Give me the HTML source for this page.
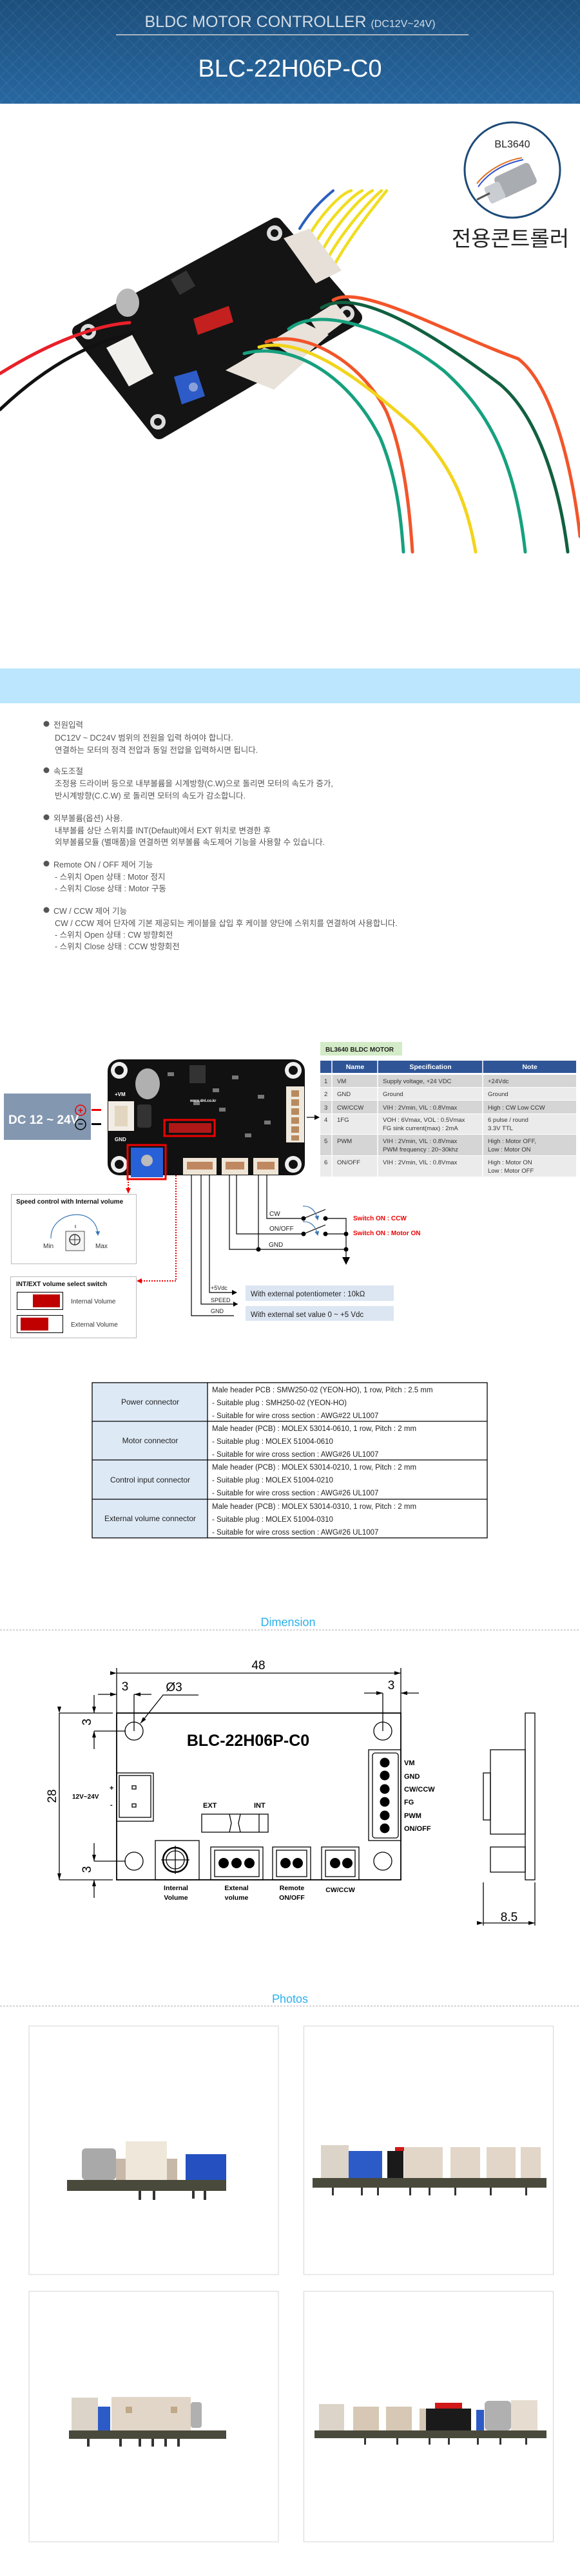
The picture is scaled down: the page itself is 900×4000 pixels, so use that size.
<!DOCTYPE html>
<html><head><meta charset="utf-8"><style>
html,body{margin:0;padding:0;background:#fff}
body{width:900px;height:4000px;position:relative;overflow:hidden;font-family:"Liberation Sans","Noto Sans CJK KR",sans-serif}
svg{position:absolute;left:0;top:0}
.k{font-family:"Liberation Sans","Noto Sans CJK KR",sans-serif}
</style></head><body>
<svg width="900" height="4000" viewBox="0 0 900 4000" xmlns="http://www.w3.org/2000/svg">
<defs>
<pattern id="dia" width="14" height="14" patternUnits="userSpaceOnUse" patternTransform="rotate(45)">
<rect width="14" height="14" fill="none"/>
<path d="M0 0H14M0 0V14" stroke="#ffffff" stroke-opacity="0.10" stroke-width="1.5"/>
</pattern>
<linearGradient id="hg" x1="0" y1="0" x2="0" y2="1"><stop offset="0" stop-color="#1d4f7c"/><stop offset="1" stop-color="#2767a0"/></linearGradient>
<marker id="ar" markerWidth="8" markerHeight="8" refX="7" refY="4" orient="auto" markerUnits="userSpaceOnUse"><path d="M0 0L8 4L0 8Z" fill="#000"/></marker>
<marker id="arr" markerWidth="8" markerHeight="8" refX="7" refY="4" orient="auto" markerUnits="userSpaceOnUse"><path d="M0 0L8 4L0 8Z" fill="#e00"/></marker>
<marker id="arb" markerWidth="7" markerHeight="7" refX="6" refY="3.5" orient="auto" markerUnits="userSpaceOnUse"><path d="M0 0L7 3.5L0 7Z" fill="#3a78b8"/></marker>
<marker id="dm" markerWidth="10" markerHeight="6" refX="10" refY="3" orient="auto" markerUnits="userSpaceOnUse"><path d="M0 0L10 3L0 6Z" fill="#000"/></marker>
</defs>

<!-- HEADER -->
<rect x="0" y="0" width="900" height="161" fill="url(#hg)"/>
<rect x="0" y="0" width="900" height="161" fill="url(#dia)"/>
<text x="450" y="42" text-anchor="middle" fill="#d4dce4" font-size="25" class="k">BLDC MOTOR CONTROLLER <tspan font-size="16">(DC12V~24V)</tspan></text>
<rect x="180" y="53" width="547" height="2" fill="#a9b4bf"/>
<text x="450" y="119" text-anchor="middle" fill="#fff" font-size="38" class="k">BLC-22H06P-C0</text>

<!-- PRODUCT PHOTO -->
<g fill="none" stroke-linecap="round">
<path d="M465 355 C480 330 500 310 517 296" stroke="#2a5fc0" stroke-width="4"/>
<path d="M478 368 C500 330 530 300 545 296" stroke="#f0dd20" stroke-width="4.5"/>
<path d="M488 380 C510 340 545 305 562 296" stroke="#f0dd20" stroke-width="4.5"/>
<path d="M498 393 C520 350 560 305 578 296" stroke="#f0dd20" stroke-width="4.5"/>
<path d="M506 406 C530 360 575 310 592 296" stroke="#f0dd20" stroke-width="4.5"/>
<path d="M514 420 C540 370 585 315 600 296" stroke="#f0dd20" stroke-width="4.5"/>
</g>
<polygon points="428,349 551,493 247,671 123,515" fill="#141414" stroke="#141414" stroke-width="22" stroke-linejoin="round"/>
<circle cx="426" cy="362" r="12" fill="#ddd"/><circle cx="426" cy="362" r="6" fill="#141414"/>
<circle cx="538" cy="487" r="12" fill="#ddd"/><circle cx="538" cy="487" r="6" fill="#141414"/>
<circle cx="245" cy="655" r="12" fill="#ddd"/><circle cx="245" cy="655" r="6" fill="#141414"/>
<circle cx="137" cy="515" r="12" fill="#ddd"/><circle cx="137" cy="515" r="6" fill="#141414"/>
<polygon points="440,370 480,355 530,420 490,440" fill="#e6e0d8"/>
<polygon points="165,540 205,520 238,580 200,600" fill="#f2f0ec"/>
<polygon points="350,575 410,540 475,560 425,605" fill="#e8e2da"/>
<polygon points="420,530 470,500 510,520 465,560" fill="#e8e2da"/>
<polygon points="480,495 520,470 540,495 500,525" fill="#e8e2da"/>
<polygon points="300,495 355,475 362,500 307,520" fill="#c42020"/>
<polygon points="270,585 305,575 318,615 282,628" fill="#2d5cc8"/>
<circle cx="300" cy="601" r="7" fill="#8aa0d8"/>
<ellipse cx="198" cy="470" rx="18" ry="22" fill="#b8b8b8"/>
<rect x="270" y="425" width="28" height="28" fill="#333" transform="rotate(-30 284 439)"/>
<g fill="none" stroke-linecap="round">
<path d="M0 580 C80 530 150 505 201 501" stroke="#e8202a" stroke-width="5"/>
<path d="M0 636 C80 560 150 530 207 517" stroke="#111" stroke-width="5"/>
<path d="M517 466 C560 440 700 520 804 557 C860 600 890 740 900 833" stroke="#f2552a" stroke-width="5"/>
<path d="M499 478 C560 440 700 540 775 596 C840 650 870 770 881 857" stroke="#116040" stroke-width="5"/>
<path d="M448 511 C500 470 620 520 689 576 C760 640 800 720 815 857" stroke="#16a07e" stroke-width="5"/>
<path d="M413 531 C470 510 560 560 600 640 C625 700 635 780 640 857" stroke="#f2552a" stroke-width="5"/>
<path d="M402 539 C470 520 560 590 640 660 C700 720 725 780 738 857" stroke="#f2d41c" stroke-width="5"/>
<path d="M379 549 C450 530 540 580 590 680 C615 740 622 800 626 857" stroke="#16a07e" stroke-width="5"/>
</g>
<circle cx="795" cy="264" r="74" fill="#fff" stroke="#1d4a78" stroke-width="3"/>
<text x="795" y="229" text-anchor="middle" font-size="16" fill="#222" class="k">BL3640</text>
<rect x="770" y="262" width="60" height="36" rx="6" fill="#a9acb0" transform="rotate(-25 800 280)"/>
<rect x="755" y="285" width="26" height="28" rx="4" fill="#c9ccd0" transform="rotate(-25 768 299)"/>
<line x1="740" y1="310" x2="760" y2="300" stroke="#555" stroke-width="3"/>
<path d="M740 285 C760 260 790 248 810 245" stroke="#e07020" stroke-width="2" fill="none"/>
<path d="M742 290 C762 262 792 252 812 248" stroke="#3050d0" stroke-width="2" fill="none"/>
<text x="792" y="382" text-anchor="middle" font-size="33" fill="#222" class="k">전용콘트롤러</text>

<!-- LIGHT BLUE BAND -->
<rect x="0" y="1038" width="900" height="54" fill="#bbe6fe"/>

<!-- TEXT SECTION -->
<g font-size="12.5" fill="#555" class="k">
<circle cx="72" cy="1124" r="4.5" fill="#555"/><text x="83" y="1130">전원입력</text>
<text x="85" y="1150">DC12V ~ DC24V 범위의 전원을 입력 하여야 합니다.</text>
<text x="85" y="1169">연결하는 모터의 정격 전압과 동일 전압을 입력하시면 됩니다.</text>
<circle cx="72" cy="1196" r="4.5" fill="#555"/><text x="83" y="1202">속도조절</text>
<text x="85" y="1221">조정용 드라이버 등으로 내부볼륨을 시계방향(C.W)으로 돌리면  모터의 속도가 증가,</text>
<text x="85" y="1240">반시계방향(C.C.W) 로 돌리면 모터의 속도가 감소합니다.</text>
<circle cx="72" cy="1269" r="4.5" fill="#555"/><text x="83" y="1275">외부볼륨(옵션) 사용.</text>
<text x="85" y="1294">내부볼륨 상단 스위치를 INT(Default)에서 EXT 위치로 변경한 후</text>
<text x="85" y="1312">외부볼륨모듈 (별매품)을 연결하면 외부볼륨 속도제어 기능을 사용할 수 있습니다.</text>
<circle cx="72" cy="1341" r="4.5" fill="#555"/><text x="83" y="1347">Remote ON / OFF 제어 기능</text>
<text x="85" y="1366">- 스위치 Open 상태 : Motor 정지</text>
<text x="85" y="1384">- 스위치 Close 상태 : Motor 구동</text>
<circle cx="72" cy="1413" r="4.5" fill="#555"/><text x="83" y="1419">CW / CCW 제어 기능</text>
<text x="85" y="1438">CW / CCW 제어 단자에 기본 제공되는 케이블을 삽입 후 케이블 양단에 스위치를 연결하여 사용합니다.</text>
<text x="85" y="1456">- 스위치 Open 상태 : CW 방향회전</text>
<text x="85" y="1474">- 스위치 Close 상태 : CCW 방향회전</text>
</g>

<!-- WIRING DIAGRAM -->
<rect x="497" y="1618" width="127" height="21" fill="#d3ebc6"/>
<text x="505" y="1633" font-size="10" font-weight="bold" fill="#222">BL3640 BLDC MOTOR</text>
<rect x="497" y="1647" width="397" height="19" fill="#2f5597"/>
<g fill="#fff" font-size="10.5" font-weight="bold" text-anchor="middle"><text x="551" y="1660">Name</text><text x="668" y="1660">Specification</text><text x="822" y="1660">Note</text></g>
<rect x="497" y="1669" width="397" height="19" fill="#d5d5d5"/>
<rect x="497" y="1689" width="397" height="19" fill="#ebebeb"/>
<rect x="497" y="1709" width="397" height="20" fill="#d5d5d5"/>
<rect x="497" y="1730" width="397" height="31" fill="#ebebeb"/>
<rect x="497" y="1762" width="397" height="32" fill="#d5d5d5"/>
<rect x="497" y="1795" width="397" height="32" fill="#ebebeb"/>
<g stroke="#fff" stroke-width="1.5"><line x1="515" y1="1647" x2="515" y2="1827"/><line x1="586" y1="1647" x2="586" y2="1827"/><line x1="749" y1="1647" x2="749" y2="1827"/></g>
<g font-size="9.5" fill="#333">
<text x="503" y="1682">1</text><text x="523" y="1682">VM</text><text x="594" y="1682">Supply voltage, +24 VDC</text><text x="757" y="1682">+24Vdc</text>
<text x="503" y="1702">2</text><text x="523" y="1702">GND</text><text x="594" y="1702">Ground</text><text x="757" y="1702">Ground</text>
<text x="503" y="1723">3</text><text x="523" y="1723">CW/CCW</text><text x="594" y="1723">VIH : 2Vmin, VIL : 0.8Vmax</text><text x="757" y="1723">High : CW  Low CCW</text>
<text x="503" y="1742">4</text><text x="523" y="1742">1FG</text><text x="594" y="1742">VOH : 6Vmax, VOL : 0.5Vmax</text><text x="594" y="1755">FG sink current(max) : 2mA</text><text x="757" y="1742">6 pulse / round</text><text x="757" y="1755">3.3V TTL</text>
<text x="503" y="1775">5</text><text x="523" y="1775">PWM</text><text x="594" y="1775">VIH : 2Vmin, VIL : 0.8Vmax</text><text x="594" y="1788">PWM frequency : 20~30khz</text><text x="757" y="1775">High : Motor OFF,</text><text x="757" y="1788">Low : Motor ON</text>
<text x="503" y="1808">6</text><text x="523" y="1808">ON/OFF</text><text x="594" y="1808">VIH : 2Vmin, VIL : 0.8Vmax</text><text x="757" y="1808">High : Motor ON</text><text x="757" y="1821">Low : Motor OFF</text>
</g>
<line x1="476" y1="1735" x2="495" y2="1735" stroke="#000" stroke-width="1.2" marker-end="url(#ar)"/>

<!-- PCB -->
<rect x="167" y="1645" width="306" height="180" rx="18" fill="#111"/>
<g fill="#eee"><circle cx="185" cy="1662" r="13"/><circle cx="455" cy="1662" r="13"/><circle cx="185" cy="1808" r="13"/><circle cx="455" cy="1808" r="13"/></g>
<g fill="#111"><circle cx="185" cy="1662" r="7"/><circle cx="455" cy="1662" r="7"/><circle cx="185" cy="1808" r="7"/><circle cx="455" cy="1808" r="7"/></g>
<ellipse cx="229" cy="1683" rx="19" ry="24" fill="#b0b0b0"/>
<rect x="294" y="1654" width="25" height="28" fill="#333"/>
<rect x="213" y="1715" width="22" height="36" rx="4" fill="#333"/>
<rect x="168" y="1710" width="40" height="46" fill="#f2ede4"/>
<rect x="178" y="1717" width="20" height="32" fill="#e2d6c0"/>
<rect x="444" y="1687" width="28" height="87" fill="#efe8dc"/>
<g fill="#b88a60"><rect x="452" y="1693" width="12" height="10"/><rect x="452" y="1707" width="12" height="10"/><rect x="452" y="1721" width="12" height="10"/><rect x="452" y="1735" width="12" height="10"/><rect x="452" y="1749" width="12" height="10"/><rect x="452" y="1763" width="12" height="8"/></g>
<rect x="284" y="1798" width="52" height="26" fill="#efe5d6"/><rect x="344" y="1798" width="41" height="26" fill="#efe5d6"/><rect x="393" y="1798" width="39" height="26" fill="#efe5d6"/>
<g fill="#c08860"><rect x="290" y="1804" width="40" height="12"/><rect x="350" y="1804" width="29" height="12"/><rect x="399" y="1804" width="27" height="12"/></g>
<rect x="203" y="1782" width="50" height="46" fill="#2860d8"/>
<circle cx="228" cy="1802" r="9" fill="#bbb"/>
<rect x="262" y="1744" width="66" height="15" fill="#b01818"/>
<g fill="#777"><rect x="260" y="1665" width="10" height="6"/><rect x="330" y="1690" width="10" height="6"/><rect x="360" y="1670" width="10" height="6"/><rect x="400" y="1700" width="10" height="6"/><rect x="380" y="1760" width="10" height="6"/><rect x="340" y="1720" width="10" height="6"/><rect x="410" y="1740" width="10" height="6"/><rect x="300" y="1710" width="10" height="6"/></g>
<text x="178" y="1702" fill="#fff" font-size="8" font-weight="bold">+VM</text>
<text x="178" y="1772" fill="#fff" font-size="8" font-weight="bold">GND</text>
<text x="295" y="1711" fill="#fff" font-size="6" font-weight="bold">www.dnl.co.kr</text>
<rect x="198" y="1778" width="59" height="53" fill="none" stroke="#e00" stroke-width="3"/>
<rect x="255" y="1739" width="78" height="25" fill="none" stroke="#e00" stroke-width="3"/>

<rect x="6" y="1698" width="135" height="72" fill="#8497b0"/>
<text x="13" y="1745" fill="#fff" font-size="19" font-weight="bold">DC 12 ~ 24V</text>
<circle cx="125" cy="1724" r="8" fill="none" stroke="#e00" stroke-width="1.5"/>
<text x="125" y="1729" text-anchor="middle" fill="#e00" font-size="14" font-weight="bold">+</text>
<circle cx="125" cy="1746" r="8" fill="none" stroke="#000" stroke-width="1.5"/>
<text x="125" y="1750" text-anchor="middle" fill="#000" font-size="14" font-weight="bold">−</text>
<rect x="142" y="1722" width="15" height="3" fill="#e00"/>
<rect x="142" y="1744" width="15" height="3" fill="#000"/>

<!-- red dotted -->
<line x1="199" y1="1831" x2="199" y2="1852" stroke="#e00" stroke-width="2" stroke-dasharray="2,2" marker-end="url(#arr)"/>
<polyline points="273,1825 273,1989 213,1989" fill="none" stroke="#e00" stroke-width="2" stroke-dasharray="2,2" marker-end="url(#arr)"/>

<!-- speed control box -->
<rect x="17.5" y="1854.5" width="194" height="108" fill="#fff" stroke="#bbb"/>
<text x="25" y="1869" font-size="10" font-weight="bold" fill="#111">Speed control with Internal volume</text>
<path d="M79 1923 C78 1880 150 1870 152 1918" fill="none" stroke="#3a78b8" stroke-width="1.2" marker-end="url(#arb)"/>
<line x1="117" y1="1902" x2="117" y2="1907" stroke="#333"/>
<rect x="102" y="1912" width="29" height="30" fill="#f4f4f4" stroke="#555"/>
<circle cx="116" cy="1925" r="8" fill="none" stroke="#333" stroke-width="1.5"/>
<line x1="108" y1="1925" x2="124" y2="1925" stroke="#333"/><line x1="116" y1="1917" x2="116" y2="1933" stroke="#333"/>
<text x="67" y="1938" font-size="10" fill="#333">Min</text><text x="148" y="1938" font-size="10" fill="#333">Max</text>

<!-- INT/EXT box -->
<rect x="16.5" y="1982.5" width="195" height="95" fill="#fff" stroke="#bbb"/>
<text x="25" y="1997" font-size="10" font-weight="bold" fill="#111">INT/EXT volume select switch</text>
<rect x="26.5" y="2006.5" width="71" height="27" fill="#fff" stroke="#000"/><rect x="51" y="2010" width="42" height="20" fill="#c00000"/>
<rect x="26.5" y="2042.5" width="71" height="27" fill="#fff" stroke="#000"/><rect x="32" y="2046" width="43" height="20" fill="#c00000"/>
<text x="110" y="2024" font-size="10" fill="#333">Internal Volume</text>
<text x="110" y="2060" font-size="10" fill="#333">External Volume</text>

<!-- control wiring -->
<g stroke="#000" stroke-width="1.2" fill="none">
<polyline points="414,1824 414,1892 471,1892"/>
<polyline points="367,1824 367,1916 471,1916"/>
<polyline points="356,1824 356,1940 537,1940"/>
<line x1="401" y1="1824" x2="401" y2="1940"/>
<polyline points="505,1892 537,1892 537,1952"/>
<line x1="505" y1="1916" x2="537" y2="1916"/>
<line x1="471" y1="1892" x2="505" y2="1878"/>
<line x1="471" y1="1916" x2="505" y2="1902"/>
<polyline points="325,1824 325,2007 367,2007" marker-end="url(#ar)"/>
<polyline points="312,1824 312,2025 369,2025"/>
<polyline points="297,1824 297,2043 363,2043"/>
</g>
<path d="M369 2025 L362 2021 L362 2029Z" fill="#000"/>
<path d="M531 1952 L543 1952 L537 1964Z" fill="#000"/>
<g fill="#000"><circle cx="471" cy="1892" r="3.5"/><circle cx="505" cy="1892" r="3.5"/><circle cx="471" cy="1916" r="3.5"/><circle cx="505" cy="1916" r="3.5"/><circle cx="537" cy="1916" r="3.5"/><circle cx="537" cy="1940" r="3.5"/><circle cx="401" cy="1940" r="3.5"/></g>
<path d="M470 1873 C482 1872 490 1880 493 1894" fill="none" stroke="#3a78b8" stroke-width="1.2" marker-end="url(#arb)"/>
<path d="M470 1897 C482 1896 490 1904 493 1918" fill="none" stroke="#3a78b8" stroke-width="1.2" marker-end="url(#arb)"/>
<g font-size="10" fill="#222"><text x="418" y="1888">CW</text><text x="418" y="1911">ON/OFF</text><text x="417" y="1936">GND</text>
<text x="327" y="2003" font-size="9">+5Vdc</text><text x="327" y="2022" font-size="9">SPEED</text><text x="327" y="2039" font-size="9">GND</text></g>
<g font-size="10" fill="#e00" font-weight="bold"><text x="548" y="1895">Switch ON : CCW</text><text x="548" y="1918">Switch ON : Motor ON</text></g>
<rect x="381" y="1996" width="230" height="24" fill="#dce6f2"/>
<rect x="381" y="2028" width="230" height="23" fill="#dce6f2"/>
<text x="389" y="2013" font-size="11.5" fill="#222">With external potentiometer : 10kΩ</text>
<text x="389" y="2045" font-size="11.5" fill="#222">With external set value 0 ~ +5 Vdc</text>

<!-- CONNECTOR TABLE -->
<rect x="143" y="2147" width="179" height="241" fill="#dde9f5"/>
<g stroke="#000" stroke-width="1.3" fill="none"><rect x="143" y="2147" width="613" height="241"/><line x1="322" y1="2147" x2="322" y2="2388"/><line x1="143" y1="2207" x2="756" y2="2207"/><line x1="143" y1="2267" x2="756" y2="2267"/><line x1="143" y1="2328" x2="756" y2="2328"/></g>
<g font-size="12" fill="#222" text-anchor="middle"><text x="233" y="2181">Power connector</text><text x="233" y="2241">Motor connector</text><text x="233" y="2302">Control input connector</text><text x="233" y="2362">External volume connector</text></g>
<g font-size="11.5" fill="#222">
<text x="329" y="2162">Male header PCB : SMW250-02 (YEON-HO), 1 row, Pitch : 2.5 mm</text>
<text x="329" y="2182">- Suitable plug : SMH250-02 (YEON-HO)</text>
<text x="329" y="2202">- Suitable for wire cross section : AWG#22 UL1007</text>
<text x="329" y="2222">Male header (PCB) : MOLEX 53014-0610, 1 row, Pitch : 2 mm</text>
<text x="329" y="2242">- Suitable plug : MOLEX 51004-0610</text>
<text x="329" y="2262">- Suitable for wire cross section : AWG#26 UL1007</text>
<text x="329" y="2282">Male header (PCB) : MOLEX 53014-0210, 1 row, Pitch : 2 mm</text>
<text x="329" y="2302">- Suitable plug : MOLEX 51004-0210</text>
<text x="329" y="2322">- Suitable for wire cross section : AWG#26 UL1007</text>
<text x="329" y="2343">Male header (PCB) : MOLEX 53014-0310, 1 row, Pitch : 2 mm</text>
<text x="329" y="2363">- Suitable plug : MOLEX 51004-0310</text>
<text x="329" y="2383">- Suitable for wire cross section : AWG#26 UL1007</text>
</g>

<!-- DIMENSION -->
<text x="447" y="2525" text-anchor="middle" font-size="18" fill="#2bb0ec" class="k">Dimension</text>
<line x1="0" y1="2531" x2="900" y2="2531" stroke="#aaa" stroke-dasharray="3,2"/>
<g stroke="#000" stroke-width="1.3" fill="none">
<rect x="181" y="2660" width="441" height="259" stroke-width="1.8"/>
<line x1="181" y1="2598" x2="622" y2="2598" marker-end="url(#dm)" marker-start="url(#dm)"/>
<line x1="181" y1="2590" x2="181" y2="2660"/><line x1="622" y1="2590" x2="622" y2="2660"/>
<line x1="152" y1="2631" x2="181" y2="2631" marker-end="url(#dm)"/><line x1="235" y1="2631" x2="208" y2="2631" marker-end="url(#dm)"/>
<line x1="208" y1="2631" x2="208" y2="2688"/>
<polyline points="308,2632 253,2632 218,2676" marker-end="url(#dm)"/>
<line x1="565" y1="2629" x2="594" y2="2629" marker-end="url(#dm)"/><line x1="650" y1="2629" x2="622" y2="2629" marker-end="url(#dm)"/>
<line x1="594" y1="2629" x2="594" y2="2688"/>
<circle cx="208" cy="2688" r="14"/><circle cx="594" cy="2688" r="14"/><circle cx="208" cy="2890" r="14"/><circle cx="594" cy="2890" r="14"/>
<line x1="92" y1="2660" x2="92" y2="2919" marker-end="url(#dm)" marker-start="url(#dm)"/>
<line x1="92" y1="2660" x2="175" y2="2660"/><line x1="92" y1="2919" x2="175" y2="2919"/>
<line x1="146" y1="2632" x2="146" y2="2660" marker-end="url(#dm)"/><line x1="146" y1="2716" x2="146" y2="2688" marker-end="url(#dm)"/>
<line x1="146" y1="2688" x2="195" y2="2688"/>
<line x1="146" y1="2862" x2="146" y2="2890" marker-end="url(#dm)"/><line x1="146" y1="2947" x2="146" y2="2919" marker-end="url(#dm)"/>
<line x1="146" y1="2890" x2="195" y2="2890"/>
<rect x="181" y="2753" width="57" height="75"/><rect x="185" y="2757" width="49" height="65"/>
<rect x="205" y="2773" width="6" height="5"/><rect x="205" y="2801" width="6" height="5"/>
<rect x="313" y="2817" width="103" height="28"/><line x1="402" y1="2817" x2="402" y2="2845"/>
<path d="M356 2817 l3 14 l-3 14 M373 2817 l-3 14 l3 14"/>
<rect x="572" y="2717" width="50" height="141"/><rect x="578" y="2722" width="40" height="132" rx="4"/>
<rect x="241" y="2858" width="68" height="61"/>
<circle cx="272" cy="2888" r="19" stroke-width="2.5"/><circle cx="272" cy="2888" r="14"/>
<line x1="250" y1="2888" x2="294" y2="2888"/><line x1="272" y1="2866" x2="272" y2="2910"/>
<rect x="327" y="2868" width="81" height="51"/><rect x="333" y="2873" width="69" height="41"/>
<rect x="423" y="2868" width="59" height="51"/><rect x="429" y="2873" width="47" height="41"/>
<rect x="499" y="2868" width="58" height="51"/><rect x="505" y="2873" width="46" height="41"/>
<rect x="815" y="2660" width="15" height="259"/>
<rect x="761" y="2717" width="54" height="131"/><rect x="750" y="2753" width="11" height="73"/>
<rect x="761" y="2868" width="54" height="39"/>
<line x1="750" y1="2923" x2="750" y2="2990"/><line x1="830" y1="2923" x2="830" y2="2990"/>
<line x1="750" y1="2986" x2="830" y2="2986" marker-end="url(#dm)" marker-start="url(#dm)"/>
</g>
<g fill="#000"><circle cx="597" cy="2737" r="7.5"/><circle cx="597" cy="2757" r="7.5"/><circle cx="597" cy="2778" r="7.5"/><circle cx="597" cy="2798" r="7.5"/><circle cx="597" cy="2819" r="7.5"/><circle cx="597" cy="2839" r="7.5"/>
<circle cx="347" cy="2893" r="8"/><circle cx="367" cy="2893" r="8"/><circle cx="387" cy="2893" r="8"/>
<circle cx="443" cy="2893" r="8"/><circle cx="462" cy="2893" r="8"/><circle cx="520" cy="2893" r="8"/><circle cx="539" cy="2893" r="8"/></g>
<g fill="#000" font-size="19"><text x="401" y="2592" text-anchor="middle">48</text><text x="194" y="2625" text-anchor="middle">3</text><text x="270" y="2626" text-anchor="middle">Ø3</text><text x="607" y="2623" text-anchor="middle">3</text>
<text x="790" y="2983" text-anchor="middle">8.5</text>
<text transform="translate(87 2789) rotate(-90)" text-anchor="middle">28</text>
<text transform="translate(141 2674) rotate(-90)" text-anchor="middle">3</text>
<text transform="translate(141 2903) rotate(-90)" text-anchor="middle">3</text></g>
<text x="385" y="2711" text-anchor="middle" font-size="25" font-weight="bold" fill="#000">BLC-22H06P-C0</text>
<g font-size="11" font-weight="bold" fill="#000">
<text x="627" y="2741">VM</text><text x="627" y="2762">GND</text><text x="627" y="2782">CW/CCW</text><text x="627" y="2802">FG</text><text x="627" y="2823">PWM</text><text x="627" y="2843">ON/OFF</text>
<text x="112" y="2793" font-size="10">12V~24V</text><text x="170" y="2780">+</text><text x="171" y="2806">-</text>
<text x="315" y="2807">EXT</text><text x="394" y="2807">INT</text>
<g text-anchor="middle" font-size="10.5"><text x="273" y="2935">Internal</text><text x="273" y="2950">Volume</text><text x="367" y="2935">Extenal</text><text x="367" y="2950">volume</text><text x="453" y="2935">Remote</text><text x="453" y="2950">ON/OFF</text><text x="528" y="2938">CW/CCW</text></g>
</g>

<!-- PHOTOS -->
<text x="450" y="3110" text-anchor="middle" font-size="18" fill="#2bb0ec" class="k">Photos</text>
<line x1="0" y1="3115" x2="900" y2="3115" stroke="#aaa" stroke-dasharray="3,2"/>
<g fill="#fff" stroke="#d4d4d4"><rect x="45" y="3146" width="387" height="386"/><rect x="471.5" y="3146" width="387" height="386"/><rect x="45" y="3558" width="387" height="389"/><rect x="471.5" y="3558" width="387" height="389"/></g>
<!-- photo1 -->
<rect x="104" y="3385" width="247" height="17" fill="#4a4a3c"/>
<rect x="127" y="3336" width="53" height="49" rx="6" fill="#a9a9a9"/>
<rect x="180" y="3352" width="15" height="33" fill="#c8b8a8"/>
<rect x="195" y="3325" width="64" height="60" fill="#efe8da"/>
<rect x="259" y="3352" width="16" height="33" fill="#c8b8a8"/>
<rect x="288" y="3345" width="63" height="40" fill="#2450c0"/>
<g fill="#333"><rect x="215" y="3402" width="4" height="14"/><rect x="237" y="3402" width="4" height="14"/><rect x="298" y="3402" width="4" height="12"/><rect x="316" y="3402" width="4" height="14"/></g>
<!-- photo2 -->
<rect x="485" y="3382" width="363" height="15" fill="#4a4a3c"/>
<rect x="498" y="3331" width="43" height="51" fill="#dcd4c8"/>
<rect x="541" y="3340" width="52" height="42" fill="#2c5bc8"/>
<rect x="601" y="3340" width="25" height="42" fill="#1a1a1a"/>
<rect x="613" y="3334" width="38" height="6" fill="#d01818"/>
<rect x="627" y="3334" width="60" height="48" fill="#e2d6c8"/>
<rect x="699" y="3334" width="46" height="48" fill="#e2d6c8"/>
<rect x="755" y="3334" width="45" height="48" fill="#e2d6c8"/>
<rect x="808" y="3334" width="31" height="48" fill="#e2d6c8"/>
<g fill="#333"><rect x="515" y="3397" width="3" height="12"/><rect x="560" y="3397" width="3" height="12"/><rect x="585" y="3397" width="3" height="12"/><rect x="635" y="3397" width="3" height="12"/><rect x="665" y="3397" width="3" height="12"/><rect x="705" y="3397" width="3" height="12"/><rect x="760" y="3397" width="3" height="12"/><rect x="815" y="3397" width="3" height="12"/></g>
<!-- photo3 -->
<rect x="107" y="3774" width="244" height="13" fill="#4a4a3c"/>
<rect x="111" y="3723" width="41" height="51" fill="#dcd4c8"/>
<rect x="152" y="3737" width="19" height="37" fill="#2c5bc8"/>
<rect x="173" y="3722" width="123" height="52" fill="#e2d6c8"/>
<g fill="#c0a888"><rect x="195" y="3737" width="10" height="10"/><rect x="265" y="3737" width="10" height="10"/></g>
<rect x="296" y="3730" width="17" height="40" rx="4" fill="#b0b0b0"/>
<g fill="#333"><rect x="135" y="3787" width="4" height="12"/><rect x="185" y="3787" width="4" height="12"/><rect x="215" y="3787" width="4" height="12"/><rect x="235" y="3787" width="4" height="12"/><rect x="255" y="3787" width="4" height="12"/><rect x="275" y="3787" width="4" height="12"/></g>
<!-- photo4 -->
<rect x="488" y="3774" width="360" height="12" fill="#4a4a3c"/>
<rect x="495" y="3733" width="39" height="41" fill="#dcd4c8"/>
<rect x="548" y="3737" width="40" height="37" fill="#d6c8b4"/>
<rect x="599" y="3737" width="40" height="37" fill="#d6c8b4"/>
<rect x="651" y="3740" width="10" height="34" fill="#d6c8b4"/>
<rect x="661" y="3740" width="70" height="34" fill="#1a1a1a"/>
<rect x="675" y="3731" width="42" height="9" fill="#d01818"/>
<rect x="739" y="3742" width="12" height="32" fill="#2c5bc8"/>
<rect x="752" y="3728" width="41" height="46" rx="6" fill="#b0b0b0"/>
<rect x="793" y="3727" width="41" height="47" fill="#e6ddd0"/>
<g fill="#333"><rect x="565" y="3786" width="3" height="10"/><rect x="615" y="3786" width="3" height="10"/><rect x="665" y="3786" width="3" height="10"/><rect x="695" y="3786" width="3" height="10"/><rect x="740" y="3786" width="3" height="10"/><rect x="775" y="3786" width="3" height="10"/><rect x="815" y="3786" width="3" height="10"/></g>
</svg>
</body></html>
